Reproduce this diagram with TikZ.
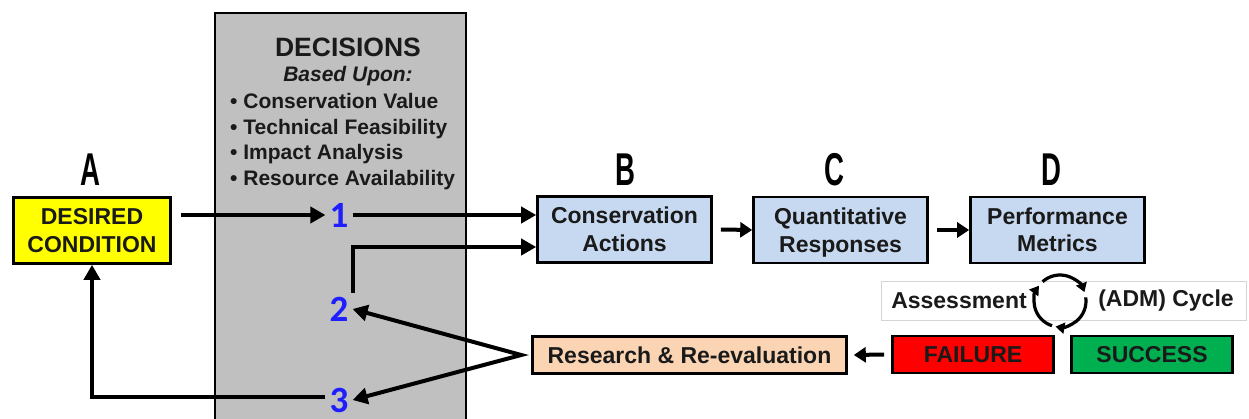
\documentclass[tikz,border=0pt]{standalone}
\usepackage{fontspec}
\usepackage{graphicx}
\setmainfont{Liberation Sans}
\newfontfamily\numfont{Carlito}
\usetikzlibrary{arrows.meta}

\definecolor{inkc}{HTML}{1A1A1A}
\definecolor{deskgray}{HTML}{C0C0C0}
\definecolor{goalyellow}{HTML}{FFFF00}
\definecolor{stepblue}{HTML}{C6D9F1}
\definecolor{peach}{HTML}{FBD4B4}
\definecolor{failred}{HTML}{FF0000}
\definecolor{passgreen}{HTML}{00B050}
\definecolor{numblue}{HTML}{1E1EFF}
\definecolor{framegray}{HTML}{D4D4D4}

\newcommand{\stagefont}{\fontsize{46}{46}\selectfont\bfseries}
\newcommand{\stageletter}[1]{\scalebox{0.6}[1]{#1}}
% keeps descenders from shifting a two-line label upward
\newcommand{\nodepth}[1]{\raisebox{0pt}[\height][0pt]{#1}}

\begin{document}
\begin{tikzpicture}[x=1pt,y=-1pt,
  boxtext/.style={font=\bfseries\fontsize{23}{27.5}\selectfont, text=inkc, align=center, inner sep=0pt},
  flowbox/.style={boxtext, draw=black, line width=2.6pt},
  stage/.style={font=\stagefont, text=black, inner sep=0pt},
  num/.style={font=\numfont\bfseries\fontsize{37}{37}\selectfont, text=numblue, inner sep=4pt},
  crit/.style={font=\bfseries\fontsize{21}{25}\selectfont, text=inkc, inner sep=0pt, anchor=base west},
  arr/.style={draw=black, line width=4pt, line join=miter,
    -{Triangle[length=15pt,width=16pt]}},
  sarr/.style={draw=black, line width=4pt, -{Triangle[length=12pt,width=15pt]}},
  cyc/.style={draw=black, line width=3.2pt, -{Triangle[length=9pt,width=11pt]}}
]
\clip (0,0) rectangle (1249,419);
\fill[white] (0,0) rectangle (1249,419);

% decision panel
\fill[deskgray, draw=black, line width=2.6pt] (215,13) rectangle (466,440);
\node[font=\bfseries\fontsize{26.5}{26.5}\selectfont, text=inkc, inner sep=0pt] (dectitle) at (348,47) {DECISIONS};
\node[font=\bfseries\itshape\fontsize{21}{21}\selectfont, text=inkc, inner sep=0pt] (basis) at (348,76) {Based Upon:};
\node[crit] (c1) at (230,109) {\textbullet\ Conservation Value};
\node[crit] (c2) at (230,134.5) {\textbullet\ Technical Feasibility};
\node[crit] (c3) at (230,160) {\textbullet\ Impact Analysis};
\node[crit] (c4) at (230,185.5) {\textbullet\ Resource Availability};

% decision points
\node[num] (n1) at (339,215) {1};
\node[num] (n2) at (339,309) {2};
\node[num] (n3) at (339,400) {3};

% stage boxes
\node[flowbox, fill=goalyellow, minimum width=157pt, minimum height=66pt] (DC) at (92,230.5) {DESIRED\\CONDITION};
\node[flowbox, fill=stepblue, minimum width=174pt, minimum height=66pt] (CA) at (624.5,229.5) {Conservation\\Actions};
\node[flowbox, fill=stepblue, minimum width=174pt, minimum height=66pt] (QR) at (840.5,230) {Quantitative\\\nodepth{Responses}};
\node[flowbox, fill=stepblue, minimum width=174pt, minimum height=66pt] (PM) at (1057.5,230) {Performance\\Metrics};

% stage letters
\node[stage] (lA) at (90,170) {\stageletter{A}};
\node[stage] (lB) at (625,170) {\stageletter{B}};
\node[stage] (lC) at (834,170) {\stageletter{C}};
\node[stage] (lD) at (1051,170) {\stageletter{D}};

% assessment cycle banner
\node[draw=framegray, line width=1pt, fill=white, minimum width=365pt, minimum height=39pt, inner sep=0pt] (adm) at (1064,301) {};
\node[boxtext] (assess) at (959,301) {Assessment};
\node[boxtext] (admcyc) at (1166,301) {(ADM) Cycle};
\coordinate (cyc) at (1060,301);
\draw[cyc] ([shift={(228:26)}]cyc) arc (228:340:26);
\draw[cyc] ([shift={(352:26)}]cyc) arc (352:460:26);
\draw[cyc] ([shift={(108:26)}]cyc) arc (108:216:26);

% outcome boxes
\node[flowbox, fill=peach, minimum width=314pt, minimum height=37pt] (RR) at (689.5,355) {Research \& Re-evaluation};
\node[flowbox, fill=failred, minimum width=161pt, minimum height=37pt] (FA) at (973,354.5) {FAILURE};
\node[flowbox, fill=passgreen, minimum width=161pt, minimum height=37pt] (SU) at (1152,354.5) {SUCCESS};

% connectors
\coordinate (dcout) at ([xshift=9pt]DC.east);
\draw[arr] (dcout |- n1.west) -- (n1.west);
\draw[arr] (n1.east) -- (n1.east -| CA.west);
\draw[arr] (n2.north east) |- ([yshift=-17.5pt]CA.west);
\draw[sarr] ([xshift=8pt]CA.east) -- (QR.west);
\draw[sarr] ([xshift=8pt]QR.east) -- (PM.west);
\draw[sarr] ([xshift=-7pt]FA.west) -- ([xshift=6pt]RR.east);
\coordinate (fork) at ([xshift=-10pt]RR.west);
\draw[arr, {Triangle[length=15pt,width=16pt]}-{Triangle[length=15pt,width=16pt]}] (n2.east) -- (fork) -- (n3.east);
\draw[arr] ([yshift=3pt]n3.west) -| (DC.south);
\end{tikzpicture}
\end{document}
